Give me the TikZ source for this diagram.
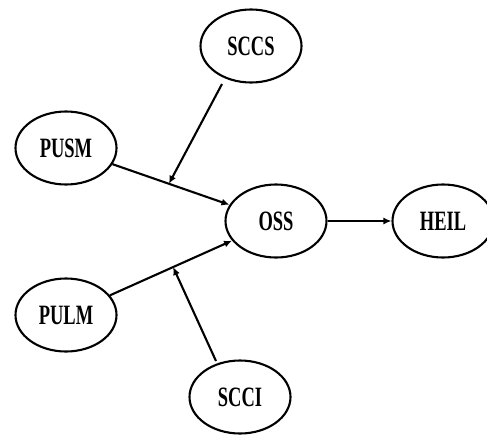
\documentclass[tikz,border=0pt]{standalone}
\usepackage{fontspec}
\setmainfont{Liberation Serif}[FakeStretch=0.66]
\usetikzlibrary{arrows.meta,calc,shapes.geometric}
\begin{document}
\begin{tikzpicture}[x=1pt,y=-1pt,
  var/.style={draw,ellipse,line width=2.1pt,minimum width=101pt,minimum height=73pt,inner sep=0pt,
    font=\fontsize{28}{28}\selectfont\bfseries},
  link/.style={line width=2.1pt,-{Latex[length=8pt,width=7pt]}}]
\useasboundingbox[fill=white] (0,0) rectangle (487,434);
\node[var] (SCCS) at (251,46) {SCCS};
\node[var] (PUSM) at (66,148) {PUSM};
\node[var] (OSS) at (276,221) {OSS};
\node[var] (HEIL) at (443,221) {HEIL};
\node[var] (PULM) at (66,315) {PULM};
\node[var] (SCCI) at (240,397) {SCCI};
\draw[link] (PUSM) -- (OSS);
\draw[link] (PULM) -- (OSS);
\draw[link] (OSS) -- (HEIL);
\coordinate (m1) at ($(PUSM)!0.49!(OSS)$);
\coordinate (m2) at ($(PULM)!0.51!(OSS)$);
\coordinate (s1) at ($(SCCS)+(-29,38)$);
\coordinate (s2) at ($(SCCI)+(-24,-36)$);
\draw[link] (s1) -- (m1);
\draw[link] (s2) -- (m2);
\end{tikzpicture}
\end{document}
